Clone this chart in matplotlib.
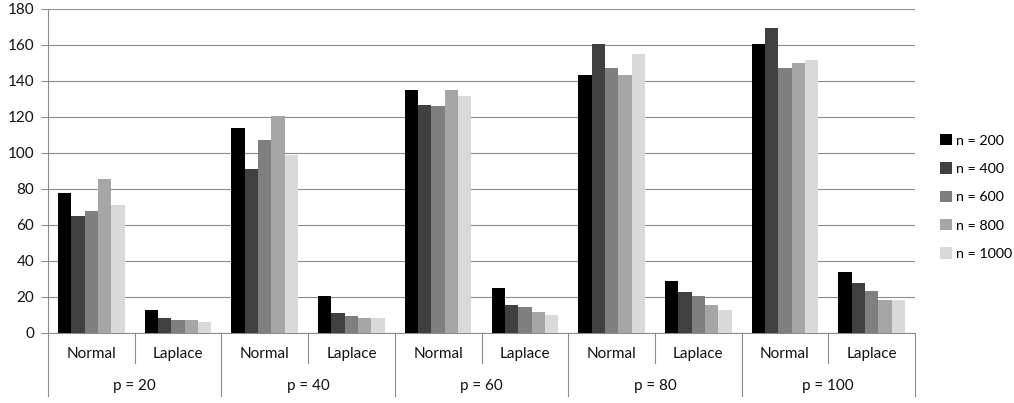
import numpy as np
import matplotlib.pyplot as plt
from matplotlib.patches import Patch

plt.rcParams['font.family'] = ['Lato', 'DejaVu Sans']

groups = ['p = 20', 'p = 40', 'p = 60', 'p = 80', 'p = 100']
dists = ['Normal', 'Laplace']
series = ['n = 200', 'n = 400', 'n = 600', 'n = 800', 'n = 1000']
colors = ['#000000', '#404040', '#7f7f7f', '#a6a6a6', '#d9d9d9']

# one list per n, 10 values: (Normal, Laplace) for p = 20 .. 100
n200 = [77.6, 13.0, 113.7, 20.7, 135.2, 25.2, 143.1, 29.1, 160.4, 33.7]
n400 = [65.0, 8.1, 91.1, 11.1, 126.7, 15.7, 160.4, 22.6, 169.6, 27.6]
n600 = [67.9, 7.0, 107.0, 9.3, 126.1, 14.3, 147.0, 20.4, 147.2, 23.1]
n800 = [85.6, 7.0, 120.4, 8.1, 135.2, 11.7, 143.1, 15.7, 149.8, 18.1]
n1000 = [71.1, 6.1, 98.9, 8.1, 131.7, 10.2, 155.2, 12.8, 151.7, 18.1]
values = [n200, n400, n600, n800, n1000]

W, H = 1014, 403
fig = plt.figure(figsize=(W / 100, H / 100), dpi=100)
left, right, top, bottom = 48, 915, 9, 333
ax = fig.add_axes([left / W, (H - bottom) / H, (right - left) / W, (bottom - top) / H])

ncat = len(groups) * len(dists)
x = np.arange(ncat)
bw = 2 / 13
for i, (vals, col, lab) in enumerate(zip(values, colors, series)):
    ax.bar(x - 0.5 + 3 / 26 + bw * (i + 0.5), vals, width=bw, color=col, label=lab, zorder=3)

fs = 11
txtcol = '#111111'
ax.set_xlim(-0.5, ncat - 0.5)
ax.set_ylim(0, 180)
ax.set_yticks(range(0, 181, 20))
ax.yaxis.grid(True, color='#8c8c8c', linewidth=0.8, zorder=0)
ax.tick_params(axis='y', length=5, color='#8c8c8c', labelsize=fs, pad=5, labelcolor=txtcol)
ax.set_xticks([])
for s in ['top', 'right']:
    ax.spines[s].set_visible(False)
for s in ['left', 'bottom']:
    ax.spines[s].set_color('#8c8c8c')
    ax.spines[s].set_linewidth(0.8)

# multi-level category axis
tr = ax.get_xaxis_transform()
inner_y = -30 / (bottom - top)
outer_y = -63 / (bottom - top)
for k in range(ncat + 1):
    xb = k - 0.5
    yb = outer_y if k % 2 == 0 else inner_y
    ax.plot([xb, xb], [0, yb], color='#8c8c8c', lw=0.8, transform=tr, clip_on=False)
for k in range(ncat):
    ax.text(k, -21 / (bottom - top), dists[k % 2], transform=tr, ha='center', va='center',
            fontsize=fs, color=txtcol)
for g, name in enumerate(groups):
    ax.text(2 * g + 0.5, -53 / (bottom - top), name, transform=tr, ha='center', va='center',
            fontsize=fs, color=txtcol)

handles = [Patch(facecolor=c, edgecolor='none') for c in colors]
fig.legend(handles, series, loc='center left', bbox_to_anchor=(940 / W, 1 - 197 / H),
           frameon=False, fontsize=10.3, handlelength=0.85, handleheight=0.85,
           handletextpad=0.25, labelspacing=1.1, borderpad=0, borderaxespad=0)

fig.savefig('out.png', dpi=100)
